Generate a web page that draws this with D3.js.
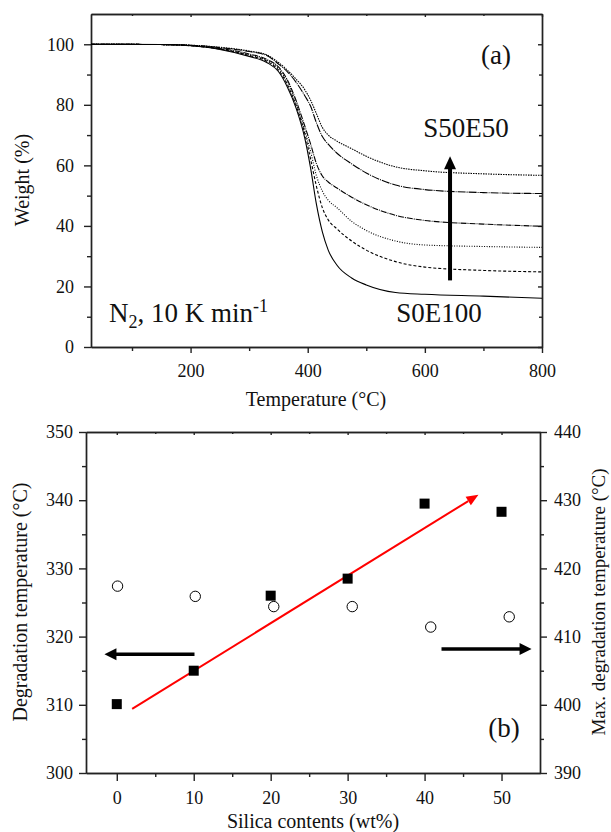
<!DOCTYPE html>
<html>
<head>
<meta charset="utf-8">
<script src="https://cdn.jsdelivr.net/npm/d3@7"></script>
<style>
  body { margin: 0; background: #fff; }
  svg { display: block; }
  text { font-family: "Liberation Serif", "Times New Roman", serif; fill: #111; }
  .axis path, .axis line { stroke: #222; stroke-width: 1.4; }
  .axis text { font-size: 18px; font-family: "Liberation Serif", serif; fill: #111; }
</style>
</head>
<body>
<script>
// ---- (a) TGA curves ----
const temps = [30, 150, 200, 250, 300, 330, 350, 365, 380, 395, 405, 415, 425, 435, 450, 475, 500, 550, 600, 700, 800];
const s0e100 = [100, 99.9, 99.5, 98.3, 96.0, 94.0, 91.0, 86.0, 79.0, 69.0, 59.0, 47.0, 38.0, 32.0, 27.0, 22.8, 20.5, 18.0, 17.4, 16.8, 16.1];
const s10e90 = [100, 99.9, 99.5, 98.4, 96.3, 94.4, 91.5, 86.8, 79.8, 70.5, 62.0, 53.0, 46.0, 42.0, 39.0, 35.0, 32.0, 28.2, 26.4, 25.3, 24.8];
const s20e80 = [100, 99.9, 99.6, 98.5, 96.5, 94.7, 92.0, 87.5, 80.5, 71.5, 64.5, 56.5, 51.5, 48.5, 46.0, 41.5, 38.5, 35.0, 33.7, 33.2, 32.9];
const s30e70 = [100, 99.9, 99.6, 98.6, 96.8, 95.0, 92.5, 88.3, 81.5, 73.0, 67.0, 60.5, 56.5, 54.5, 52.5, 49.5, 47.0, 43.5, 41.8, 40.6, 39.9];
const s40e60 = [100, 99.9, 99.7, 98.9, 97.6, 96.3, 93.5, 91.0, 87.5, 83.0, 79.5, 74.0, 69.5, 67.0, 64.0, 60.5, 57.5, 53.5, 52.0, 51.0, 50.7];
const s50e50 = [100, 99.9, 99.7, 99.0, 97.8, 96.5, 94.0, 91.5, 88.5, 85.0, 81.5, 77.0, 72.5, 70.0, 68.0, 65.5, 63.0, 59.5, 58.2, 57.2, 56.7];
const seriesA = [
  { name: "S0E100", w: s0e100, dash: null },
  { name: "S10E90", w: s10e90, dash: "3,2" },
  { name: "S20E80", w: s20e80, dash: "1,1.5" },
  { name: "S30E70", w: s30e70, dash: "6,1,1,1" },
  { name: "S40E60", w: s40e60, dash: "8,1,1,1" },
  { name: "S50E50", w: s50e50, dash: "1.5,1" }
];
const arrowA = { t: 643, from: 22, to: 63 };   // trend arrow (°C, wt%)

// ---- (b) degradation temperatures ----
const silica = [0, 10, 20, 30, 40, 50];
const degTemp = [310.1, 315.0, 326.0, 328.5, 339.5, 338.3];
const silicaMax = [0.1, 10.2, 20.4, 30.6, 40.8, 51.0];
const maxDegTemp = [417.4, 415.9, 414.4, 414.4, 411.4, 412.9];
const trendLine = [[2, 309.4], [47, 340.8]];
const leftArrow = [[10.1, 317.4], [-1.6, 317.4]];
const rightArrow = [[42.2, 318.2], [53.9, 318.2]];

const W = 611, H = 832;
const svg = d3.select("body").append("svg").attr("width", W).attr("height", H);

// helper: major + minor ticks on one side
function axis(g, make, scale, majors, minors, majLen, minLen, pad, labels) {
  g.attr("class", "axis");
  g.append("g").call(make(scale).tickValues(minors).tickSize(minLen).tickSizeOuter(0).tickFormat(""));
  g.append("g").call(make(scale).tickValues(majors).tickSize(majLen).tickSizeOuter(0).tickPadding(pad)
    .tickFormat(labels ? d3.format("d") : ""));
}

// ================= (a) =================
const xA = d3.scaleLinear().domain([30, 800]).range([91, 542]);
const yA = d3.scaleLinear().domain([0, 110]).range([347, 14]);

axis(svg.append("g").attr("transform", "translate(0,347)"), d3.axisBottom, xA,
  [200, 400, 600, 800], [100, 300, 500, 700], 6, 4, 11, true);
axis(svg.append("g").attr("transform", "translate(0,14)"), d3.axisBottom, xA,
  [200, 400, 600, 800], [100, 300, 500, 700], 3, 2, 0, false);
axis(svg.append("g").attr("transform", "translate(91,0)"), d3.axisLeft, yA,
  [0, 20, 40, 60, 80, 100], [10, 30, 50, 70, 90], 7, 4, 10, true);
axis(svg.append("g").attr("transform", "translate(542,0)"), d3.axisLeft, yA,
  [0, 20, 40, 60, 80, 100], [10, 30, 50, 70, 90], 4, 3, 0, false);

const lineA = d3.line().x(d => xA(d[0])).y(d => yA(d[1])).curve(d3.curveMonotoneX);
svg.append("g").selectAll("path").data(seriesA).join("path")
  .attr("d", s => lineA(temps.map((t, i) => [t, s.w[i]])))
  .attr("fill", "none").attr("stroke", "#000").attr("stroke-width", 1.1)
  .attr("stroke-dasharray", s => s.dash);

// arrow (a)
const ax = xA(arrowA.t), ay0 = yA(arrowA.from), ay1 = yA(arrowA.to);
svg.append("line").attr("x1", ax).attr("x2", ax).attr("y1", ay0).attr("y2", ay1 + 10)
  .attr("stroke", "#000").attr("stroke-width", 4);
svg.append("path").attr("d", `M${ax},${ay1} L${ax - 6},${ay1 + 13} L${ax + 6},${ay1 + 13} Z`).attr("fill", "#000");

svg.append("text").attr("x", 496).attr("y", 64).attr("text-anchor", "middle").style("font-size", "27px").text("(a)");
svg.append("text").attr("x", 466).attr("y", 137).attr("text-anchor", "middle").style("font-size", "27px").text("S50E50");
svg.append("text").attr("x", 439).attr("y", 322).attr("text-anchor", "middle").style("font-size", "27px").text("S0E100");
const n2 = svg.append("text").attr("x", 109).attr("y", 322).style("font-size", "27px");
n2.append("tspan").text("N");
n2.append("tspan").attr("dy", 6).style("font-size", "18px").text("2");
n2.append("tspan").attr("dy", -6).text(", 10 K min");
n2.append("tspan").attr("dy", -10).style("font-size", "18px").text("-1");

svg.append("text").attr("x", 316).attr("y", 406).attr("text-anchor", "middle").style("font-size", "20px").text("Temperature (°C)");
svg.append("text").attr("transform", "translate(29,180) rotate(-90)").attr("text-anchor", "middle")
  .style("font-size", "20px").text("Weight (%)");

// ================= (b) =================
const xB = d3.scaleLinear().domain([-4, 55]).range([86, 540]);
const yB = d3.scaleLinear().domain([300, 350]).range([773, 432]);
const yB2 = d3.scaleLinear().domain([390, 440]).range([773, 432]);

axis(svg.append("g").attr("transform", "translate(0,773)"), d3.axisBottom, xB,
  [0, 10, 20, 30, 40, 50], [5, 15, 25, 35, 45], 8, 4, 10, true);
axis(svg.append("g").attr("transform", "translate(0,432)"), d3.axisBottom, xB,
  [0, 10, 20, 30, 40, 50], [5, 15, 25, 35, 45], 3, 2, 0, false);
axis(svg.append("g").attr("transform", "translate(86,0)"), d3.axisLeft, yB,
  [300, 310, 320, 330, 340, 350], [305, 315, 325, 335, 345], 7, 4, 6, true);
axis(svg.append("g").attr("transform", "translate(540,0)"), d3.axisRight, yB2,
  [390, 400, 410, 420, 430, 440], [395, 405, 415, 425, 435], 7, 4, 7, true);

// red trend arrow
const rt = trendLine.map(p => [xB(p[0]), yB(p[1])]);
const ang = Math.atan2(rt[1][1] - rt[0][1], rt[1][0] - rt[0][0]);
const hx = rt[1][0] - 12 * Math.cos(ang), hy = rt[1][1] - 12 * Math.sin(ang);
svg.append("line").attr("x1", rt[0][0]).attr("y1", rt[0][1]).attr("x2", hx).attr("y2", hy)
  .attr("stroke", "#f00").attr("stroke-width", 2);
svg.append("path").attr("fill", "#f00").attr("d",
  `M${rt[1][0]},${rt[1][1]} L${hx + 5 * Math.sin(ang)},${hy - 5 * Math.cos(ang)} L${hx - 5 * Math.sin(ang)},${hy + 5 * Math.cos(ang)} Z`);

// black direction arrows
function hArrow(pts) {
  const x0 = xB(pts[0][0]), x1 = xB(pts[1][0]), y = yB(pts[0][1]);
  const dir = Math.sign(x1 - x0);
  svg.append("line").attr("x1", x0).attr("x2", x1 - dir * 10).attr("y1", y).attr("y2", y)
    .attr("stroke", "#000").attr("stroke-width", 3.5);
  svg.append("path").attr("fill", "#000")
    .attr("d", `M${x1},${y} L${x1 - dir * 12},${y - 6} L${x1 - dir * 12},${y + 6} Z`);
}
hArrow(leftArrow);
hArrow(rightArrow);

svg.append("g").selectAll("rect").data(silica).join("rect")
  .attr("x", (d, i) => xB(d) - 5).attr("y", (d, i) => yB(degTemp[i]) - 5)
  .attr("width", 10).attr("height", 10).attr("fill", "#000");
svg.append("g").selectAll("circle").data(silicaMax).join("circle")
  .attr("cx", d => xB(d)).attr("cy", (d, i) => yB2(maxDegTemp[i]))
  .attr("r", 5.2).attr("fill", "#fff").attr("stroke", "#000").attr("stroke-width", 1);

svg.append("text").attr("x", 504).attr("y", 737).attr("text-anchor", "middle").style("font-size", "27px").text("(b)");
svg.append("text").attr("x", 313).attr("y", 828).attr("text-anchor", "middle").style("font-size", "20px").text("Silica contents (wt%)");
svg.append("text").attr("transform", "translate(27,602) rotate(-90)").attr("text-anchor", "middle")
  .style("font-size", "20px").text("Degradation temperature (°C)");
svg.append("text").attr("transform", "translate(605,602) rotate(-90)").attr("text-anchor", "middle")
  .style("font-size", "19px").text("Max. degradation temperature (°C)");
</script>
</body>
</html>
